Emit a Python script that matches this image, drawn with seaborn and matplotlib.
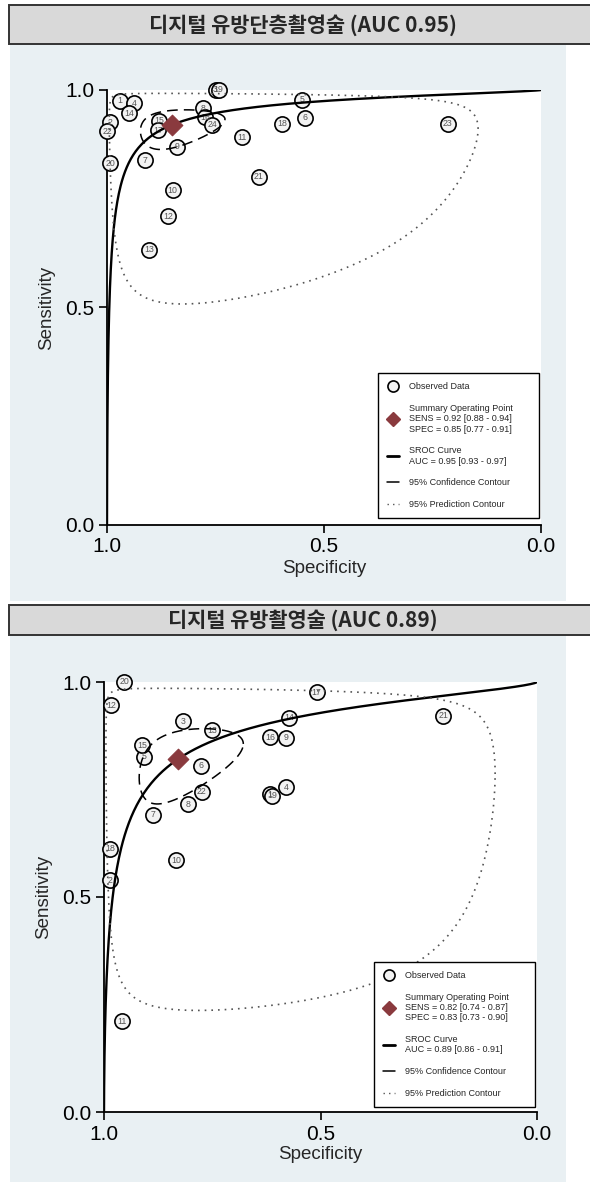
import numpy as np
import pandas as pd
import matplotlib
matplotlib.use("Agg")
import matplotlib.pyplot as plt
from matplotlib.patches import Rectangle
from matplotlib.lines import Line2D
import seaborn as sns

sns.set_theme(style="ticks")
plt.rcParams["font.family"] = ["Liberation Sans", "Noto Sans CJK KR", "DejaVu Sans"]

# ---- Digital breast tomosynthesis: per-study accuracy ----
dbt_study = list(range(1, 25))
dbt_spec = [0.970, 0.993, 0.750, 0.938, 0.551, 0.543, 0.912, 0.778, 0.838, 0.849,
            0.690, 0.859, 0.903, 0.949, 0.880, 0.774, 0.883, 0.597, 0.743, 0.992,
            0.650, 1.000, 0.215, 0.758]
dbt_sens = [0.975, 0.926, 1.000, 0.970, 0.978, 0.936, 0.839, 0.958, 0.870, 0.770,
            0.891, 0.710, 0.633, 0.947, 0.929, 0.937, 0.908, 0.922, 1.000, 0.832,
            0.801, 0.905, 0.922, 0.920]

# ---- Digital mammography: per-study accuracy ----
dm_study = [1, 2, 3, 4, 5, 6, 7, 8, 9, 10, 11, 12, 13, 14, 15, 16, 17, 18, 19, 20, 21, 22]
dm_spec = [0.616, 0.987, 0.818, 0.580, 0.908, 0.775, 0.887, 0.805, 0.580, 0.834,
           0.958, 0.983, 0.751, 0.572, 0.912, 0.617, 0.509, 0.986, 0.611, 0.953,
           0.216, 0.774]
dm_sens = [0.739, 0.539, 0.909, 0.755, 0.826, 0.805, 0.691, 0.716, 0.870, 0.585,
           0.211, 0.946, 0.888, 0.917, 0.853, 0.872, 0.976, 0.612, 0.736, 1.000,
           0.921, 0.745]

# ---- Bivariate model summaries (logit scale) ----
dbt_summary = {"sens": 0.92, "spec": 0.85}
dm_summary = {"sens": 0.82, "spec": 0.83}
# SROC line: logit(sens) = intercept + slope * logit(1 - spec)
dbt_sroc = {"intercept": 3.650, "slope": 0.696}
dm_sroc = {"intercept": 2.560, "slope": 0.658}
# contour half-widths (logit FPR, logit sens) and correlation
dbt_conf = {"hx": 0.75, "hy": 0.60, "r": 0.30}
dbt_pred = {"hx": 3.51, "hy": 2.41, "r": -0.05}
dm_conf = {"hx": 0.84, "hy": 0.59, "r": 0.45}
dm_pred = {"hx": 3.82, "hy": 2.69, "r": -0.08}

dbt_titles = "디지털 유방단층촬영술 (AUC 0.95)"
dm_titles = "디지털 유방촬영술 (AUC 0.89)"
dbt_legend = ["Observed Data",
              "Summary Operating Point\nSENS = 0.92 [0.88 - 0.94]\nSPEC = 0.85 [0.77 - 0.91]",
              "SROC Curve\nAUC = 0.95 [0.93 - 0.97]",
              "95% Confidence Contour",
              "95% Prediction Contour"]
dm_legend = ["Observed Data",
             "Summary Operating Point\nSENS = 0.82 [0.74 - 0.87]\nSPEC = 0.83 [0.73 - 0.90]",
             "SROC Curve\nAUC = 0.89 [0.86 - 0.91]",
             "95% Confidence Contour",
             "95% Prediction Contour"]

PANEL = "#e9f0f3"
DIAMOND = "#8a3a3e"
W, H = 590, 1182


def logit(p):
    return np.log(p / (1 - p))


def expit(x):
    return 1 / (1 + np.exp(-x))


def contour(summary, c, n=500):
    t = np.linspace(0, 2 * np.pi, n)
    cx = logit(1 - summary["spec"])
    cy = logit(summary["sens"])
    lx = cx + c["hx"] * np.cos(t)
    ly = cy + c["hy"] * (c["r"] * np.cos(t) + np.sqrt(1 - c["r"] ** 2) * np.sin(t))
    return pd.DataFrame({"spec": 1 - expit(lx), "sens": expit(ly)})


def sroc(params):
    fpr = np.concatenate([np.logspace(-7, -1, 300), np.linspace(0.1, 1 - 1e-7, 300)])
    sens = expit(params["intercept"] + params["slope"] * logit(fpr))
    return pd.DataFrame({"spec": 1 - fpr, "sens": sens})


def fig_rect(x0, y0, x1, y1, **kw):
    return Rectangle((x0 / W, 1 - y1 / H), (x1 - x0) / W, (y1 - y0) / H,
                     transform=fig.transFigure, **kw)


fig = plt.figure(figsize=(W / 100, H / 100), dpi=100, facecolor="white")

# background panels and title bars
fig.patches.append(fig_rect(10, 44, 566, 601, facecolor=PANEL, edgecolor="none", zorder=-5))
fig.patches.append(fig_rect(10, 635, 566, 1182, facecolor=PANEL, edgecolor="none", zorder=-5))
fig.patches.append(fig_rect(9, 5, 600, 44, facecolor="#d9d9d9", edgecolor="#333333",
                            linewidth=1.4, zorder=-4))
fig.patches.append(fig_rect(9, 605, 600, 635, facecolor="#d9d9d9", edgecolor="#333333",
                            linewidth=1.4, zorder=-4))
fig.text(303 / W, 1 - 25 / H, dbt_titles, ha="center", va="center", fontsize=15,
         fontweight="bold", family=["Noto Sans CJK KR", "DejaVu Sans"])
fig.text(303 / W, 1 - 620 / H, dm_titles, ha="center", va="center", fontsize=15,
         fontweight="bold", family=["Noto Sans CJK KR", "DejaVu Sans"])


def draw_panel(rect, study, spec, sens, summary, sroc_p, conf, pred, legend_labels):
    ax = fig.add_axes(rect)
    ax.set_zorder(2)
    ax.set_facecolor("white")
    df = pd.DataFrame({"study": study, "spec": spec, "sens": sens})

    sns.scatterplot(data=df, x="spec", y="sens", ax=ax, s=120, color="#f3f3f3",
                    edgecolor="black", linewidth=1.2, zorder=3, clip_on=False, legend=False)
    for _, row in df.iterrows():
        ax.text(row["spec"], row["sens"], str(int(row["study"])), ha="center", va="center",
                fontsize=6.3, color="#555555", zorder=3.5, clip_on=False)

    sns.lineplot(data=sroc(sroc_p), x="spec", y="sens", ax=ax, sort=False, estimator=None,
                 color="black", linewidth=1.7, zorder=4)
    sns.lineplot(data=contour(summary, conf), x="spec", y="sens", ax=ax, sort=False,
                 estimator=None, color="black", linewidth=1.1, linestyle=(0, (7, 4)), zorder=4)
    sns.lineplot(data=contour(summary, pred), x="spec", y="sens", ax=ax, sort=False,
                 estimator=None, color="#555555", linewidth=1.2, linestyle=(0, (1, 3)),
                 zorder=4)
    sns.scatterplot(x=[summary["spec"]], y=[summary["sens"]], ax=ax, marker="D", s=110,
                    color=DIAMOND, edgecolor=DIAMOND, zorder=5, legend=False)

    ax.set_xlim(1, 0)
    ax.set_ylim(0, 1)
    ax.set_xticks([1.0, 0.5, 0.0])
    ax.set_xticklabels(["1.0", "0.5", "0.0"])
    ax.set_yticks([0.0, 0.5, 1.0])
    ax.set_yticklabels(["0.0", "0.5", "1.0"])
    ax.tick_params(axis="both", length=6, width=1.2, colors="black", labelsize=15,
                   direction="out", pad=3)
    for side in ("top", "right"):
        ax.spines[side].set_visible(False)
    for side in ("left", "bottom"):
        ax.spines[side].set_color("black")
        ax.spines[side].set_linewidth(1.3)
    ax.set_xlabel("Specificity", fontsize=13.5)
    ax.set_ylabel("Sensitivity", fontsize=13.5)
    ax.xaxis.set_label_coords(0.5, -0.08)
    ax.yaxis.set_label_coords(-0.12, 0.5)

    handles = [
        Line2D([], [], marker="o", linestyle="none", markersize=8, markerfacecolor="#f3f3f3",
               markeredgecolor="black", markeredgewidth=1.2),
        Line2D([], [], marker="D", linestyle="none", markersize=7, color=DIAMOND),
        Line2D([], [], color="black", linewidth=2),
        Line2D([], [], color="black", linewidth=1.1),
        Line2D([], [], color="#555555", linewidth=1.0, linestyle=(0, (1, 3))),
    ]
    leg = ax.legend(handles, legend_labels, loc="upper left",
                    bbox_to_anchor=(0.624, 0.02, 0.372, 0.329), mode="expand",
                    fontsize=6.5, frameon=True, fancybox=False, framealpha=1,
                    edgecolor="black", borderpad=1.0, labelspacing=1.4,
                    handlelength=1.3, handletextpad=1.1, borderaxespad=0)
    leg.get_frame().set_linewidth(1.0)
    leg.set_zorder(6)
    return ax


draw_panel([107 / W, 1 - 525 / H, 434 / W, 435 / H], dbt_study, dbt_spec, dbt_sens,
           dbt_summary, dbt_sroc, dbt_conf, dbt_pred, dbt_legend)
draw_panel([104 / W, 1 - 1112 / H, 433 / W, 430 / H], dm_study, dm_spec, dm_sens,
           dm_summary, dm_sroc, dm_conf, dm_pred, dm_legend)

fig.savefig("out.png", dpi=100, facecolor="white")
